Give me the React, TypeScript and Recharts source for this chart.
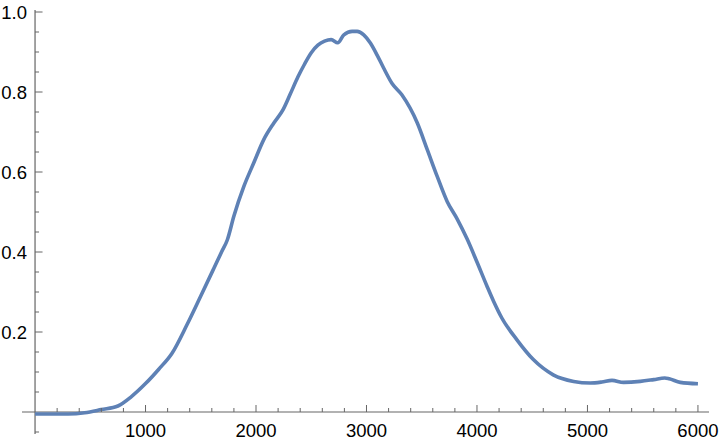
import { Line, LineChart, ReferenceLine, XAxis, YAxis } from 'recharts';

const xValues = [
  0, 150, 300, 450, 600, 750, 870, 1000, 1120, 1240, 1375, 1500, 1620, 1690, 1740, 1800,
  1890, 1980, 2070, 2160, 2245, 2310, 2380, 2440, 2500, 2560, 2620, 2680, 2740, 2795, 2870,
  2915, 2975, 3035, 3095, 3155, 3230, 3320, 3460, 3550, 3640, 3730, 3820, 3910, 4000, 4090,
  4150, 4225, 4360, 4510, 4690, 4875, 5025, 5130, 5222, 5327, 5478, 5600, 5700, 5740, 5840,
  6000,
];
const yValues = [
  -0.005, -0.005, -0.005, -0.002, 0.006, 0.015, 0.038, 0.071, 0.107, 0.147, 0.218, 0.29,
  0.36, 0.401, 0.43, 0.49, 0.564, 0.623, 0.681, 0.722, 0.756, 0.795, 0.838, 0.87, 0.898,
  0.917, 0.927, 0.931, 0.923, 0.943, 0.9515, 0.9515, 0.943, 0.9225, 0.893, 0.86, 0.822,
  0.793, 0.7225, 0.656, 0.589, 0.5265, 0.483, 0.433, 0.375, 0.315, 0.277, 0.235, 0.181,
  0.131, 0.093, 0.0765, 0.0725, 0.075, 0.079, 0.074, 0.0765, 0.081, 0.085, 0.083, 0.074,
  0.0705,
];

const xMajorTicks = [1000, 2000, 3000, 4000, 5000, 6000];
const xMinorTicks = [
  200, 400, 600, 800, 1200, 1400, 1600, 1800, 2200, 2400, 2600, 2800, 3200, 3400, 3600,
  3800, 4200, 4400, 4600, 4800, 5200, 5400, 5600, 5800,
];
const yMajorTicks = [0.2, 0.4, 0.6, 0.8, 1.0];
const yMinorTicks = [
  -0.05, 0.05, 0.1, 0.15, 0.25, 0.3, 0.35, 0.45, 0.5, 0.55, 0.65, 0.7, 0.75, 0.85, 0.9, 0.95,
];

const data = xValues.map((x, i) => ({ x, y: yValues[i] }));

const W = 720;
const H = 448;
const xDomain: [number, number] = [-118, 6100];
const yDomain: [number, number] = [-0.055, 1.005];
const margin = { top: 10, right: 11, bottom: 0, left: 0 };
const yAxisWidth = 22;
const xAxisHeight = 14;

const plotLeft = margin.left + yAxisWidth;
const plotRight = W - margin.right;
const plotTop = margin.top;
const plotBottom = H - margin.bottom - xAxisHeight;

// pixel position of the axis cross (0, 0)
const zeroX = plotLeft + ((plotRight - plotLeft) * (0 - xDomain[0])) / (xDomain[1] - xDomain[0]);
const zeroY = plotTop + ((plotBottom - plotTop) * (yDomain[1] - 0)) / (yDomain[1] - yDomain[0]);

const axisColor = '#666666';
const font = '"Liberation Sans", Arial, sans-serif';

const XTick = (props: any) => {
  const { x, payload } = props;
  const major = xMajorTicks.includes(payload.value);
  return (
    <g>
      <line x1={x} x2={x} y1={zeroY} y2={zeroY - (major ? 7 : 4)} stroke={axisColor} strokeWidth={1} />
      {major && (
        <text x={x} y={zeroY + 25} textAnchor="middle" fontSize={18.5} fontFamily={font} fill="#000">
          {payload.value}
        </text>
      )}
    </g>
  );
};

const YTick = (props: any) => {
  const { y, payload } = props;
  const major = yMajorTicks.some((t) => Math.abs(t - payload.value) < 1e-9);
  return (
    <g>
      <line x1={zeroX} x2={zeroX + (major ? 7.5 : 4)} y1={y} y2={y} stroke={axisColor} strokeWidth={1} />
      {major && (
        <text x={zeroX - 8} y={y + 6.7} textAnchor="end" fontSize={18.5} fontFamily={font} fill="#000">
          {payload.value.toFixed(1)}
        </text>
      )}
    </g>
  );
};

export default function App() {
  return (
    <div style={{ width: W, height: H, background: '#fff' }}>
      <style>{'body { margin: 0; }'}</style>
      <LineChart width={W} height={H} data={data} margin={margin}>
        <XAxis
          dataKey="x"
          type="number"
          domain={xDomain}
          allowDataOverflow
          ticks={[...xMinorTicks, ...xMajorTicks]}
          interval={0}
          axisLine={false}
          tickLine={false}
          height={xAxisHeight}
          tick={<XTick />}
        />
        <YAxis
          type="number"
          domain={yDomain}
          allowDataOverflow
          ticks={[...yMinorTicks, ...yMajorTicks]}
          interval={0}
          axisLine={false}
          tickLine={false}
          width={yAxisWidth}
          tick={<YTick />}
        />
        <ReferenceLine y={0} stroke={axisColor} strokeWidth={1.2} ifOverflow="extendDomain" />
        <ReferenceLine x={0} stroke={axisColor} strokeWidth={1.2} ifOverflow="extendDomain" />
        <Line
          type="monotone"
          dataKey="y"
          stroke="#5e81b5"
          strokeWidth={3.6}
          dot={false}
          isAnimationActive={false}
        />
      </LineChart>
    </div>
  );
}
